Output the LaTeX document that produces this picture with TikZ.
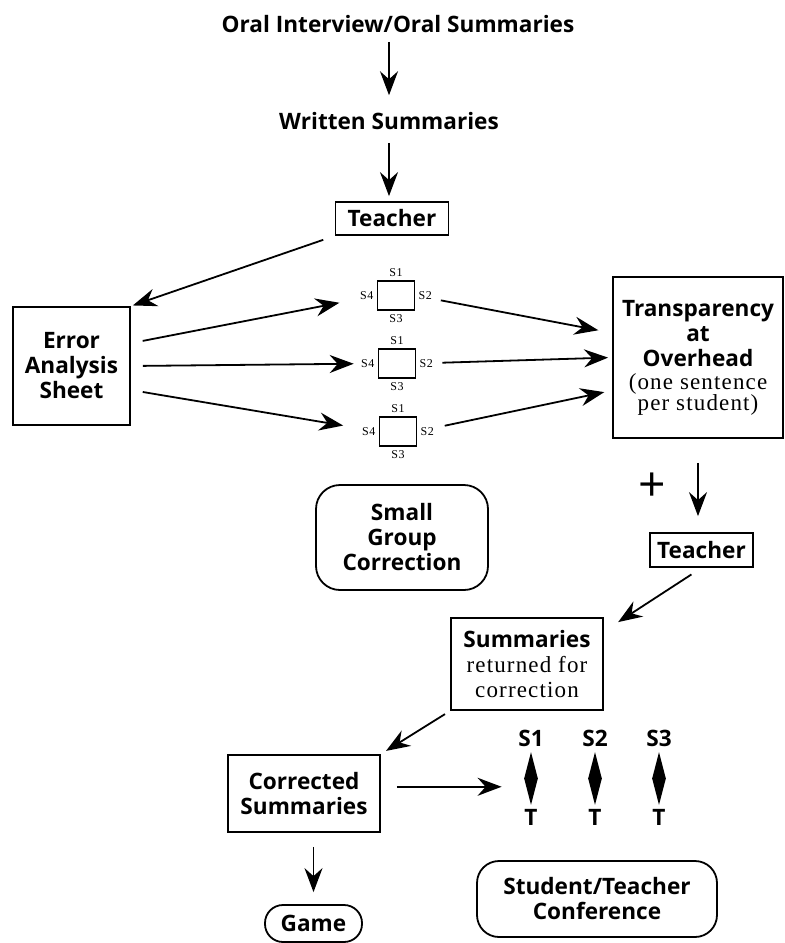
\documentclass[tikz,border=0pt]{standalone}
\usepackage{fontspec}
\setmainfont{Open Sans}
\newfontfamily\notefont{Liberation Serif}[LetterSpace=5]
\newcommand{\note}[1]{{\notefont\mdseries\fontsize{11.5}{12}\selectfont #1}}
\usetikzlibrary{arrows.meta,shapes.geometric}

\tikzset{
  every node/.style={font=\fontsize{11.3}{12.5}\selectfont\bfseries, align=center},
  box/.style={draw, line width=0.9pt, inner sep=1pt},
  roundbox/.style={box, rounded corners=12pt},
  slab/.style={font=\notefont\fontsize{6}{7}\selectfont, inner sep=0.5pt},
  grp/.style={draw, line width=0.8pt, minimum width=18.5pt, minimum height=14.5pt, inner sep=0pt,
    label={[slab, label distance=1pt]above:S1}, label={[slab, label distance=1pt]right:S2},
    label={[slab, label distance=1pt]below:S3}, label={[slab, label distance=1pt]left:S4}},
  conf/.style={diamond, fill=black, minimum width=7pt, minimum height=26.5pt, inner sep=0pt,
    label={[label distance=1pt, inner sep=1pt]above:#1}, label={[label distance=1pt, inner sep=1pt]below:T}}
}

\begin{document}
\begin{tikzpicture}[x=0.5pt, y=-0.5pt]
        \useasboundingbox (0,0) rectangle (785,943);
        % top of the chain
        \node (oral) at (398,24) {Oral Interview/Oral Summaries};
        \node (written) at (389,121) {Written Summaries};
        \node[box, minimum width=56.5pt, minimum height=16.5pt] (teacherA) at (392,218.5) {Teacher};
        \node[box, minimum width=58.5pt, minimum height=59pt] (error) at (71.5,366) {Error\\Analysis\\Sheet};
        % the three small groups
        \node[grp] (g1) at (396,295.5) {};
        \node[grp] (g2) at (397,363.5) {};
        \node[grp] (g3) at (398,431.5) {};
        \node[box, minimum width=85pt, minimum height=80.5pt] (trans) at (698,357.5)
                {Transparency\\at\\Overhead\\[-1pt]\note{(one sentence}\\[-2pt]\note{per student)}};
        \node[roundbox, minimum width=86pt, minimum height=52.5pt] (small) at (402,537.5) {Small\\Group\\Correction};
        \node[font=\fontsize{24}{24}\selectfont\mdseries] (plus) at (652,487) {+};
        \node[box, minimum width=51.5pt, minimum height=17pt] (teacherB) at (701.5,550) {Teacher};
        \node[box, minimum width=76pt, minimum height=46pt] (summ) at (527,664)
                {Summaries\\\note{returned for}\\\note{correction}};
        \node[box, minimum width=76pt, minimum height=38.5pt] (corr) at (304,793.5) {Corrected\\Summaries};
        % conferences
        \node[conf=S1] (d1) at (531,778.5) {};
        \node[conf=S2] (d2) at (595,778.5) {};
        \node[conf=S3] (d3) at (659,778.5) {};
        \node[roundbox, rounded corners=9pt, minimum width=48.5pt, minimum height=18.5pt] (game) at (313.5,923.5) {Game};
        \node[roundbox, rounded corners=11pt, minimum width=120pt, minimum height=38pt] (stc) at (597,899) {Student/Teacher\\Conference};
        \begin{scope}[every edge/.style={draw, line width=0.9pt, -{Stealth[length=12pt,width=9pt,inset=4pt]}}]
                \path (oral.south -| written.north) edge[shorten <=1pt, shorten >=5pt] (written.north);
                \path (written.south) edge[shorten <=3pt, shorten >=2.5pt] (written.south |- teacherA.north);
                \path (teacherA.south west) edge[shorten <=6pt, shorten >=1pt] (error.north east);
                \path (error.21) edge[shorten <=6pt, shorten >=19pt] (g1.west);
                \path (error.east) edge[shorten <=6pt, shorten >=12pt] (g2.west);
                \path (error.-22) edge[shorten <=6pt, shorten >=18pt] (g3.west);
                \path (g1.east) edge[shorten <=13pt, shorten >=7pt] (trans.164);
                \path (g2.east) edge[shorten <=13pt, shorten >=2pt] (trans.180);
                \path (g3.east) edge[shorten <=14pt, shorten >=4pt] (trans.201);
                \path (trans.south) edge[shorten <=12pt, shorten >=8pt] (trans.south |- teacherB.north);
                \path (teacherB.south) edge[shorten <=6pt, shorten >=8.5pt] (summ.23);
                \path (summ.south west) edge[shorten <=3pt, shorten >=3pt] (corr.north east);
                \path (corr.5) edge[shorten <=8pt, shorten >=11pt] (corr.5 -| d1.west);
                \path (game.north |- corr.south) edge[shorten <=7pt, shorten >=6pt] (game.north);
        \end{scope}
\end{tikzpicture}
\end{document}
